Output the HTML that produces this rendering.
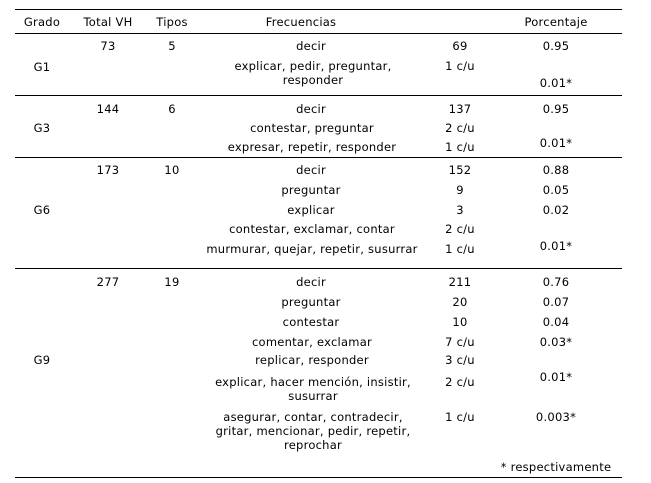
<!DOCTYPE html>
<html>
<head>
<meta charset="utf-8">
<style>
html,body{margin:0;padding:0;background:#fff;}
body{width:651px;height:483px;position:relative;overflow:hidden;font-family:"DejaVu Sans","Liberation Sans",sans-serif;font-size:11.5px;letter-spacing:0.25px;color:#000;}
.t{position:absolute;transform:translate(-50%,-50%);white-space:nowrap;text-align:center;line-height:14px;}
.l{position:absolute;left:15px;width:607px;height:1px;background:#000;}
</style>
</head>
<body>
<div class="l" style="top:9px"></div>
<div class="l" style="top:33px"></div>
<div class="l" style="top:95px"></div>
<div class="l" style="top:157px"></div>
<div class="l" style="top:268px"></div>
<div class="l" style="top:477px"></div>

<!-- header -->
<div class="t" style="left:42px;top:22px">Grado</div>
<div class="t" style="left:108px;top:22px">Total VH</div>
<div class="t" style="left:172px;top:22px">Tipos</div>
<div class="t" style="left:301px;top:22px">Frecuencias</div>
<div class="t" style="left:556px;top:22px">Porcentaje</div>

<!-- G1 -->
<div class="t" style="left:42px;top:67px">G1</div>
<div class="t" style="left:108px;top:46px">73</div>
<div class="t" style="left:172px;top:46px">5</div>
<div class="t" style="left:311px;top:46px">decir</div>
<div class="t" style="left:460px;top:46px">69</div>
<div class="t" style="left:556px;top:46px">0.95</div>
<div class="t" style="left:313px;top:73px">explicar, pedir, preguntar,<br>responder</div>
<div class="t" style="left:460px;top:66px">1 c/u</div>
<div class="t" style="left:556px;top:83px">0.01*</div>

<!-- G3 -->
<div class="t" style="left:42px;top:128px">G3</div>
<div class="t" style="left:108px;top:109px">144</div>
<div class="t" style="left:172px;top:109px">6</div>
<div class="t" style="left:311px;top:109px">decir</div>
<div class="t" style="left:460px;top:109px">137</div>
<div class="t" style="left:556px;top:109px">0.95</div>
<div class="t" style="left:312px;top:128px">contestar, preguntar</div>
<div class="t" style="left:460px;top:128px">2 c/u</div>
<div class="t" style="left:312px;top:147px">expresar, repetir, responder</div>
<div class="t" style="left:460px;top:147px">1 c/u</div>
<div class="t" style="left:556px;top:143px">0.01*</div>

<!-- G6 -->
<div class="t" style="left:42px;top:210px">G6</div>
<div class="t" style="left:108px;top:170px">173</div>
<div class="t" style="left:172px;top:170px">10</div>
<div class="t" style="left:311px;top:170px">decir</div>
<div class="t" style="left:460px;top:170px">152</div>
<div class="t" style="left:556px;top:170px">0.88</div>
<div class="t" style="left:311px;top:190px">preguntar</div>
<div class="t" style="left:460px;top:190px">9</div>
<div class="t" style="left:556px;top:190px">0.05</div>
<div class="t" style="left:311px;top:210px">explicar</div>
<div class="t" style="left:460px;top:210px">3</div>
<div class="t" style="left:556px;top:210px">0.02</div>
<div class="t" style="left:312px;top:229px">contestar, exclamar, contar</div>
<div class="t" style="left:460px;top:229px">2 c/u</div>
<div class="t" style="left:312px;top:249px">murmurar, quejar, repetir, susurrar</div>
<div class="t" style="left:460px;top:249px">1 c/u</div>
<div class="t" style="left:556px;top:246px">0.01*</div>

<!-- G9 -->
<div class="t" style="left:42px;top:360px">G9</div>
<div class="t" style="left:108px;top:282px">277</div>
<div class="t" style="left:172px;top:282px">19</div>
<div class="t" style="left:311px;top:282px">decir</div>
<div class="t" style="left:460px;top:282px">211</div>
<div class="t" style="left:556px;top:282px">0.76</div>
<div class="t" style="left:311px;top:302px">preguntar</div>
<div class="t" style="left:460px;top:302px">20</div>
<div class="t" style="left:556px;top:302px">0.07</div>
<div class="t" style="left:311px;top:322px">contestar</div>
<div class="t" style="left:460px;top:322px">10</div>
<div class="t" style="left:556px;top:322px">0.04</div>
<div class="t" style="left:312px;top:342px">comentar, exclamar</div>
<div class="t" style="left:460px;top:342px">7 c/u</div>
<div class="t" style="left:556px;top:342px">0.03*</div>
<div class="t" style="left:312px;top:360px">replicar, responder</div>
<div class="t" style="left:460px;top:360px">3 c/u</div>
<div class="t" style="left:313px;top:389px">explicar, hacer mención, insistir,<br>susurrar</div>
<div class="t" style="left:460px;top:382px">2 c/u</div>
<div class="t" style="left:556px;top:377px">0.01*</div>
<div class="t" style="left:313px;top:431px">asegurar, contar, contradecir,<br>gritar, mencionar, pedir, repetir,<br>reprochar</div>
<div class="t" style="left:460px;top:417px">1 c/u</div>
<div class="t" style="left:556px;top:417px">0.003*</div>
<div class="t" style="left:556px;top:467px">* respectivamente</div>
</body>
</html>
